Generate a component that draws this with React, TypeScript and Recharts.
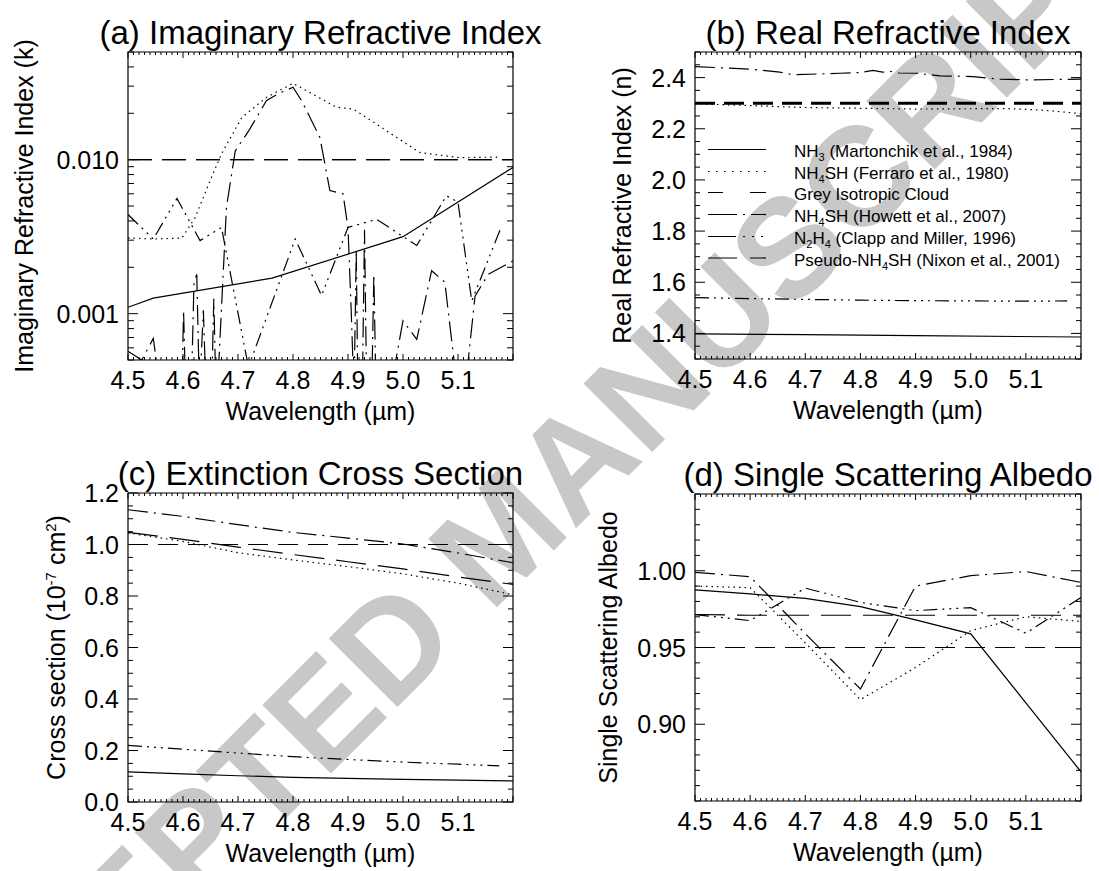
import React from "react";
import { LineChart, Line, XAxis, YAxis, ReferenceArea } from "recharts";

const FONT = '"Liberation Sans", Arial, Helvetica, sans-serif';
const INK = "#000";

// wavelength grids (µm)
const wlGrid = [4.5, 4.6, 4.7, 4.8, 4.9, 5.0, 5.1, 5.2];
const wlN2h4 = [4.5, 4.6, 4.7, 4.8, 4.9, 5.0, 5.1, 5.175];
const wlEnds = [4.5, 5.2];
const xTickLabels = ["4.5", "4.6", "4.7", "4.8", "4.9", "5.0", "5.1"];

// (a) imaginary refractive index k
const kNh3Wl = [4.5, 4.546, 4.762, 5.0, 5.2];
const kNh3 = [0.0011, 0.00126, 0.0017, 0.00316, 0.0089];
const kFerraroWl = [4.5, 4.546, 4.598, 4.622, 4.652, 4.67, 4.707, 4.752, 4.8, 4.879, 4.91, 4.97, 5.031, 5.104, 5.176];
const kFerraro = [0.0031, 0.00305, 0.0031, 0.0042, 0.0077, 0.0109, 0.0188, 0.0254, 0.0313, 0.0219, 0.0213, 0.0154, 0.0111, 0.0103, 0.0104];
const kGrey = [0.01, 0.01];
const kHowettWl = [
  4.5, 4.525, 4.546, 4.56, 4.598, 4.601, 4.605, 4.615, 4.62, 4.625, 4.63, 4.637, 4.642, 4.652, 4.656, 4.66, 4.664,
  4.679, 4.695, 4.72, 4.752, 4.775, 4.8, 4.816, 4.837, 4.849, 4.867, 4.891, 4.9, 4.906, 4.911, 4.915, 4.918, 4.926,
  4.93, 4.934, 4.943, 4.947, 4.951, 4.982, 5.0, 5.025, 5.052, 5.076, 5.1, 5.112, 5.131, 5.155, 5.2,
];
const kHowett = [
  0.00057, 0.0005, 0.00069, 0.0003, 0.0003, 0.00105, 0.0003, 0.0003, 0.0016, 0.0018, 0.0003, 0.00105, 0.0003, 0.0003,
  0.00125, 0.0003, 0.0004, 0.0049, 0.0114, 0.0155, 0.0242, 0.027, 0.0295, 0.024, 0.017, 0.0139, 0.0063, 0.006, 0.0036,
  0.001, 0.0003, 0.0026, 0.0003, 0.0003, 0.0035, 0.0003, 0.0003, 0.0018, 0.0003, 0.0004, 0.0009, 0.00068, 0.0019,
  0.0016, 0.0003, 0.0003, 0.0013, 0.0018, 0.0022,
];
const kN2h4Wl = [4.5, 4.546, 4.589, 4.631, 4.67, 4.719, 4.804, 4.852, 4.9, 4.952, 5.025, 5.079, 5.1, 5.125, 5.178];
const kN2h4 = [0.0044, 0.00305, 0.0056, 0.00298, 0.00363, 0.00045, 0.00305, 0.00131, 0.00363, 0.0041, 0.00277, 0.00583, 0.00529, 0.00121, 0.0036];
const kNixon = [0.01, 0.01];

// (b) real refractive index n
const nNh3Wl = [4.5, 4.7, 4.9, 5.2];
const nNh3 = [1.398, 1.395, 1.391, 1.386];
const nFerraroWl = [4.5, 4.7, 4.9, 5.06, 5.13, 5.2];
const nFerraro = [2.298, 2.283, 2.277, 2.279, 2.273, 2.259];
const nGrey = [2.3, 2.3];
const nHowettWl = [4.5, 4.6, 4.654, 4.678, 4.763, 4.8, 4.823, 4.84, 4.854, 4.87, 4.902, 4.944, 5.004, 5.053, 5.1, 5.2];
const nHowett = [2.443, 2.433, 2.421, 2.411, 2.417, 2.42, 2.428, 2.421, 2.424, 2.418, 2.417, 2.407, 2.404, 2.394, 2.391, 2.394];
const nN2h4 = [1.54, 1.536, 1.533, 1.53, 1.528, 1.527, 1.526, 1.527];
const nNixon = [2.3, 2.3];

// (c) extinction cross section (1e-7 cm^2)
const cNh3 = [0.117, 0.109, 0.102, 0.096, 0.092, 0.088, 0.085, 0.082];
const cFerraro = [1.045, 1.012, 0.968, 0.94, 0.914, 0.886, 0.85, 0.805];
const cGrey = [1.0, 1.0];
const cHowett = [1.135, 1.109, 1.077, 1.047, 1.025, 1.002, 0.967, 0.929];
const cN2h4 = [0.22, 0.205, 0.19, 0.176, 0.165, 0.155, 0.147, 0.14];
const cNixon = [1.047, 1.02, 0.99, 0.961, 0.933, 0.905, 0.874, 0.845];

// (d) single scattering albedo
const wNh3 = [0.9875, 0.9849, 0.982, 0.9766, 0.968, 0.9589, 0.914, 0.869];
const wFerraro = [0.99, 0.989, 0.953, 0.916, 0.937, 0.961, 0.97, 0.967];
const wGrey = [0.95, 0.95];
const wHowett = [0.999, 0.9961, 0.959, 0.923, 0.99, 0.9968, 0.9995, 0.9924];
const wN2h4 = [0.9714, 0.9675, 0.9887, 0.9794, 0.974, 0.976, 0.9593, 0.9826];
const wNixon = [0.9715, 0.971, 0.971, 0.971, 0.971, 0.971, 0.971, 0.971];

type P = { x: number; y: number };
const zip = (xs: number[], ys: number[]): P[] => xs.map((x, i) => ({ x, y: ys[i] }));

const DASH = {
  ferraro: "1.5 4",
  grey: "20 10",
  howett: "20 6 2 6",
  n2h4: "14 5 2 5 2 5 2 5",
  nixon: "30 12",
};

// tick positions
const xTicks: number[] = [];
for (let i = 0; i <= 70; i++) xTicks.push(Math.round((4.5 + i * 0.01) * 100) / 100);

const kTicks: number[] = [];
for (const dec of [0.0001, 0.001, 0.01]) {
  for (let m = 1; m <= 9; m++) {
    const v = +(m * dec).toPrecision(3);
    if (v >= 0.0005 - 1e-12 && v <= 0.05 + 1e-12) kTicks.push(v);
  }
}
const stepTicks = (lo: number, hi: number, step: number) => {
  const out: number[] = [];
  const n = Math.round((hi - lo) / step);
  for (let i = 0; i <= n; i++) out.push(+(lo + i * step).toFixed(3));
  return out;
};
const nTicks = stepTicks(1.3, 2.5, 0.05);
const cTicks = stepTicks(0, 1.2, 0.05);
const wTicks = stepTicks(0.85, 1.05, 0.01);

const isMult = (v: number, s: number) => Math.abs(v / s - Math.round(v / s)) < 1e-6;

const kLabel = (v: number) => (Math.abs(v - 0.01) < 1e-9 ? "0.010" : Math.abs(v - 0.001) < 1e-9 ? "0.001" : null);
const nLabel = (v: number) => (isMult(v, 0.2) && v > 1.39 && v < 2.41 ? v.toFixed(1) : null);
const cLabel = (v: number) => (isMult(v, 0.2) ? v.toFixed(1) : null);
const wLabel = (v: number) => (isMult(v, 0.05) && v > 0.89 && v < 1.01 ? v.toFixed(2) : null);

type Series = { data: P[]; dash?: string; width?: number };
type Margin = { top: number; right: number; bottom: number; left: number };

type PanelProps = {
  left: number;
  top: number;
  width: number;
  height: number;
  margin: Margin;
  yDomain: [number, number];
  yLog?: boolean;
  yTicks: number[];
  yLabel: (v: number) => string | null;
  yMinorLen?: number;
  series: Series[];
};

function Panel({ left, top, width, height, margin, yDomain, yLog, yTicks, yLabel, yMinorLen = 5, series }: PanelProps) {
  // plot box in chart pixels
  const x0 = margin.left;
  const x1 = width - margin.right;
  const y0 = margin.top;
  const y1 = height - margin.bottom;

  const xTick = (p: any) => {
    const x = p.x;
    const v = Math.round(p.payload.value * 100) / 100;
    const major = isMult(v, 0.1);
    const len = major ? 6 : 3;
    const idx = Math.round((v - 4.5) * 10);
    const label = major && idx < xTickLabels.length ? xTickLabels[idx] : null;
    return (
      <g>
        <line x1={x} x2={x} y1={y1} y2={y1 - len} stroke={INK} strokeWidth={1} />
        <line x1={x} x2={x} y1={y0} y2={y0 + len} stroke={INK} strokeWidth={1} />
        {label && (
          <text x={x} y={y1 + 29} textAnchor="middle" fontSize={25} fontFamily={FONT} fill={INK}>
            {label}
          </text>
        )}
      </g>
    );
  };

  const yTick = (p: any) => {
    const y = p.y;
    const label = yLabel(p.payload.value);
    const len = label !== null ? 10 : yMinorLen;
    return (
      <g>
        <line x1={x0} x2={x0 + len} y1={y} y2={y} stroke={INK} strokeWidth={1} />
        <line x1={x1} x2={x1 - len} y1={y} y2={y} stroke={INK} strokeWidth={1} />
        {label && (
          <text x={x0 - 9} y={y + 9} textAnchor="end" fontSize={25} fontFamily={FONT} fill={INK}>
            {label}
          </text>
        )}
      </g>
    );
  };

  // axes take 1px each, so trim the margins by that much
  const chartMargin = { top: margin.top, right: margin.right, bottom: margin.bottom - 1, left: margin.left - 1 };

  return (
    <div style={{ position: "absolute", left, top }}>
      <LineChart width={width} height={height} margin={chartMargin}>
        <XAxis
          dataKey="x"
          type="number"
          domain={[4.5, 5.2]}
          allowDataOverflow
          ticks={xTicks}
          interval={0}
          height={1}
          tickSize={0}
          tickMargin={0}
          tickLine={false}
          axisLine={false}
          tick={xTick}
        />
        <YAxis
          type="number"
          scale={yLog ? "log" : "linear"}
          domain={yDomain}
          allowDataOverflow
          ticks={yTicks}
          interval={0}
          width={1}
          tickSize={0}
          tickMargin={0}
          tickLine={false}
          axisLine={false}
          tick={yTick}
        />
        <ReferenceArea
          x1={4.5}
          x2={5.2}
          y1={yDomain[0]}
          y2={yDomain[1]}
          fill="none"
          stroke={INK}
          strokeWidth={1.2}
          ifOverflow="visible"
        />
        {series.map((s, i) => (
          <Line
            key={i}
            data={s.data}
            dataKey="y"
            type="linear"
            dot={false}
            activeDot={false}
            stroke={INK}
            strokeWidth={s.width ?? 1.2}
            strokeDasharray={s.dash}
            isAnimationActive={false}
          />
        ))}
      </LineChart>
    </div>
  );
}

const legendRows = [
  { dash: undefined as string | undefined, text: <>NH<tspan dy={4} fontSize={11}>3</tspan><tspan dy={-4}> (Martonchik et al., 1984)</tspan></> },
  { dash: "1.5 6.5", text: <>NH<tspan dy={4} fontSize={11}>4</tspan><tspan dy={-4}>SH (Ferraro et al., 1980)</tspan></> },
  { dash: "15 27 16", text: <>Grey Isotropic Cloud</> },
  { dash: "29 6 2 6", text: <>NH<tspan dy={4} fontSize={11}>4</tspan><tspan dy={-4}>SH (Howett et al., 2007)</tspan></> },
  { dash: "28 7 2 7 2 7 2 7", text: <>N<tspan dy={4} fontSize={11}>2</tspan><tspan dy={-4}>H</tspan><tspan dy={4} fontSize={11}>4</tspan><tspan dy={-4}> (Clapp and Miller, 1996)</tspan></> },
  { dash: "29 13", text: <>Pseudo-NH<tspan dy={4} fontSize={11}>4</tspan><tspan dy={-4}>SH (Nixon et al., 2001)</tspan></> },
];
const legendBaselines = [157, 179, 200, 222, 244, 265.5];

export default function App() {
  const txt = { fontFamily: FONT, fill: INK } as const;
  return (
    <div style={{ position: "absolute", left: 0, top: 0, width: 1099, height: 871, background: "#fff", overflow: "hidden" }}>
      {/* watermark */}
      <svg width={1099} height={871} style={{ position: "absolute", left: 0, top: 0 }}>
        <text
          x={500}
          y={535}
          textAnchor="middle"
          dominantBaseline="central"
          transform="rotate(-45 500 535)"
          fontSize={141}
          fontWeight="bold"
          fontFamily={FONT}
          fill="#c8c8c8"
        >
          ACCEPTED MANUSCRIPT
        </text>
      </svg>

      <Panel
        left={0}
        top={0}
        width={549}
        height={435}
        margin={{ top: 52, right: 36, bottom: 75, left: 128 }}
        yDomain={[0.0005, 0.05]}
        yLog
        yTicks={kTicks}
        yLabel={kLabel}
        yMinorLen={6}
        series={[
          { data: zip(kNh3Wl, kNh3) },
          { data: zip(kFerraroWl, kFerraro), dash: DASH.ferraro },
          { data: zip(wlEnds, kNixon), dash: "24 10" },
          { data: zip(wlEnds, kGrey), dash: "24 10" },
          { data: zip(kHowettWl, kHowett), dash: DASH.howett },
          { data: zip(kN2h4Wl, kN2h4), dash: DASH.n2h4 },
        ]}
      />
      <Panel
        left={549}
        top={0}
        width={550}
        height={435}
        margin={{ top: 52, right: 18, bottom: 76, left: 146 }}
        yDomain={[1.3, 2.5]}
        yTicks={nTicks}
        yLabel={nLabel}
        series={[
          { data: zip(nNh3Wl, nNh3) },
          { data: zip(nFerraroWl, nFerraro), dash: DASH.ferraro },
          { data: zip(wlEnds, nNixon), dash: "20 9", width: 3 },
          { data: zip(wlEnds, nGrey), dash: "20 9", width: 1.2 },
          { data: zip(nHowettWl, nHowett), dash: DASH.howett },
          { data: zip(wlN2h4, nN2h4), dash: DASH.n2h4 },
        ]}
      />
      <Panel
        left={0}
        top={435}
        width={549}
        height={436}
        margin={{ top: 58, right: 36, bottom: 69, left: 128 }}
        yDomain={[0, 1.2]}
        yTicks={cTicks}
        yLabel={cLabel}
        series={[
          { data: zip(wlGrid, cNh3) },
          { data: zip(wlGrid, cFerraro), dash: DASH.ferraro },
          { data: zip(wlEnds, cGrey), dash: DASH.grey },
          { data: zip(wlGrid, cHowett), dash: DASH.howett },
          { data: zip(wlN2h4, cN2h4), dash: DASH.n2h4 },
          { data: zip(wlGrid, cNixon), dash: DASH.nixon },
        ]}
      />
      <Panel
        left={549}
        top={435}
        width={550}
        height={436}
        margin={{ top: 59, right: 18, bottom: 70, left: 146 }}
        yDomain={[0.85, 1.05]}
        yTicks={wTicks}
        yLabel={wLabel}
        series={[
          { data: zip(wlGrid, wNh3) },
          { data: zip(wlGrid, wFerraro), dash: DASH.ferraro },
          { data: zip(wlEnds, wGrey), dash: DASH.grey },
          { data: zip(wlGrid, wHowett), dash: DASH.howett },
          { data: zip(wlGrid, wN2h4), dash: DASH.n2h4 },
          { data: zip(wlGrid, wNixon), dash: DASH.nixon },
        ]}
      />

      <svg width={1099} height={871} style={{ position: "absolute", left: 0, top: 0, pointerEvents: "none" }}>
        {/* panel titles */}
        <text x={320.5} y={44} textAnchor="middle" fontSize={33} {...txt}>(a) Imaginary Refractive Index</text>
        <text x={888} y={44} textAnchor="middle" fontSize={33} {...txt}>(b) Real Refractive Index</text>
        <text x={320.5} y={485} textAnchor="middle" fontSize={33} {...txt}>(c) Extinction Cross Section</text>
        <text x={888} y={486} textAnchor="middle" fontSize={33} {...txt}>(d) Single Scattering Albedo</text>

        {/* x axis titles */}
        <text x={320.5} y={420} textAnchor="middle" fontSize={25} {...txt}>Wavelength (µm)</text>
        <text x={888} y={419} textAnchor="middle" fontSize={25} {...txt}>Wavelength (µm)</text>
        <text x={320.5} y={862} textAnchor="middle" fontSize={25} {...txt}>Wavelength (µm)</text>
        <text x={888} y={861} textAnchor="middle" fontSize={25} {...txt}>Wavelength (µm)</text>

        {/* y axis titles */}
        <text x={33} y={206} transform="rotate(-90 33 206)" textAnchor="middle" fontSize={25} {...txt}>Imaginary Refractive Index (k)</text>
        <text x={631} y={205.5} transform="rotate(-90 631 205.5)" textAnchor="middle" fontSize={25} {...txt}>Real Refractive Index (n)</text>
        <text x={65} y={647.5} transform="rotate(-90 65 647.5)" textAnchor="middle" fontSize={25} {...txt}>
          Cross section (10<tspan dy={-9} fontSize={15}>-7</tspan><tspan dy={9}> cm</tspan><tspan dy={-9} fontSize={15}>2</tspan><tspan dy={9}>)</tspan>
        </text>
        <text x={617} y={647.5} transform="rotate(-90 617 647.5)" textAnchor="middle" fontSize={25} {...txt}>Single Scattering Albedo</text>

        {/* legend */}
        {legendRows.map((r, i) => (
          <g key={i}>
            <line
              x1={708}
              x2={766}
              y1={legendBaselines[i] - 7.5}
              y2={legendBaselines[i] - 7.5}
              stroke={INK}
              strokeWidth={1.2}
              strokeDasharray={r.dash}
            />
            <text x={794} y={legendBaselines[i]} fontSize={17} {...txt}>
              {r.text}
            </text>
          </g>
        ))}
      </svg>
    </div>
  );
}
